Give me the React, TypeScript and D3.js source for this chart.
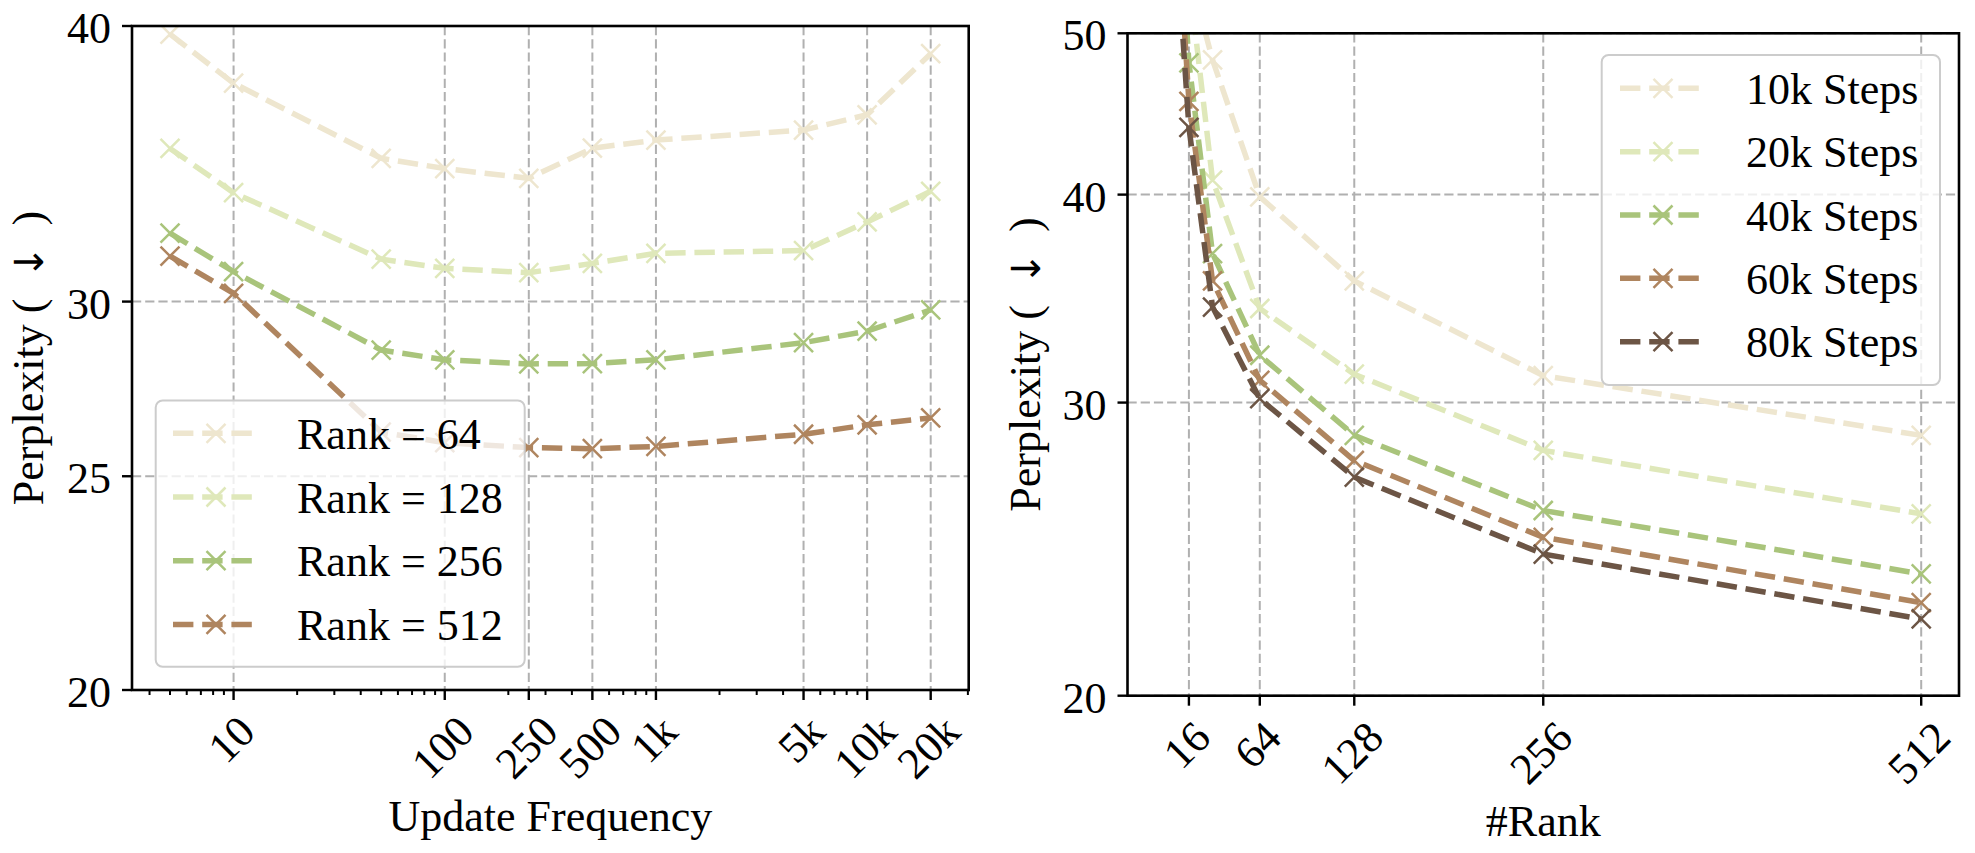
import React from 'react';
import * as d3 from 'd3';

// ---- left panel: perplexity vs update frequency ----
const freqs = [5, 10, 50, 100, 250, 500, 1000, 5000, 10000, 20000];
const rank64 = [39.66, 37.68, 34.84, 34.47, 34.12, 35.21, 35.51, 35.88, 36.46, 38.86];
const rank128 = [35.2, 33.61, 31.36, 31.06, 30.92, 31.22, 31.55, 31.64, 32.6, 33.66];
const rank256 = [32.22, 30.95, 28.52, 28.23, 28.11, 28.12, 28.23, 28.74, 29.09, 29.74];
const rank512 = [31.46, 30.26, 26.18, 25.89, 25.76, 25.73, 25.79, 26.12, 26.38, 26.57];
const rankNames = ['Rank = 64', 'Rank = 128', 'Rank = 256', 'Rank = 512'];
const freqTicks = [10, 100, 250, 500, 1000, 5000, 10000, 20000];
const freqTickLabels = ['10', '100', '250', '500', '1k', '5k', '10k', '20k'];
const leftYTicks = [20, 25, 30, 40];

// ---- right panel: perplexity vs rank ----
const ranks = [8, 16, 32, 64, 128, 256, 512];
const steps10k = [75, 54.5, 48.19, 39.88, 35.5, 31.14, 28.67];
const steps20k = [68, 54, 40.81, 34.17, 31.2, 28.08, 25.72];
const steps40k = [62, 48, 36.87, 32.03, 28.67, 25.84, 23.67];
const steps60k = [59, 45.5, 35.5, 30.94, 27.69, 24.9, 22.75];
const steps80k = [56, 43.9, 34.24, 30.16, 27.06, 24.33, 22.24];
const stepNames = ['10k Steps', '20k Steps', '40k Steps', '60k Steps', '80k Steps'];
const rankTicks = [16, 64, 128, 256, 512];
const rightYTicks = [20, 30, 40, 50];

const colors = ['#eee6cf', '#dfe8ba', '#a9c47b', '#af855f', '#6c5545'];

const FONT = '"Liberation Serif", "Times New Roman", Times, serif';
const FS = 44;
const LW = 5.5;
const DASH = '20.4 8.8';
const GRID = '#b0b0b0';

const L = { x0: 132, x1: 968.7, y0: 26, y1: 690 };
const R = { x0: 1127.5, x1: 1959, y0: 33.3, y1: 695.7 };

const xL = d3.scaleLog().domain([Math.pow(10, 0.519), Math.pow(10, 4.481)]).range([L.x0, L.x1]);
const yL = d3.scaleLog().domain([20, 40]).range([L.y1, L.y0]);
const xR = d3.scaleLinear().domain([-25.6, 537.6]).range([R.x0, R.x1]);
const yR = d3.scaleLog().domain([20, 50]).range([R.y1, R.y0]);

const Cross = ({ x, y, color, s = 9.5 }: { x: number; y: number; color: string; s?: number }) => (
  <path
    d={`M${x - s},${y - s}L${x + s},${y + s}M${x - s},${y + s}L${x + s},${y - s}`}
    stroke={color}
    strokeWidth={2.5}
    fill="none"
  />
);

const minorLogTicks = (domain: number[]) => {
  const out: number[] = [];
  for (let e = 0; e <= 5; e++) {
    for (let m = 2; m <= 9; m++) {
      const v = m * Math.pow(10, e);
      if (v >= domain[0] && v <= domain[1] && !freqTicks.includes(v)) out.push(v);
    }
  }
  return out;
};

interface PanelProps {
  id: string;
  box: { x0: number; x1: number; y0: number; y1: number };
  x: any;
  y: any;
  xs: number[];
  series: number[][];
  xTicks: number[];
  xTickLabels: string[];
  minor: number[];
  yTicks: number[];
  xLabel: string;
  yLabelX: number;
}

const Panel = ({ id, box, x, y, xs, series, xTicks, xTickLabels, minor, yTicks, xLabel, yLabelX }: PanelProps) => {
  const line = d3
    .line<number>()
    .x((_, i) => x(xs[i]))
    .y((d) => y(d));
  const midY = (box.y0 + box.y1) / 2;
  return (
    <g>
      <defs>
        <clipPath id={id}>
          <rect x={box.x0} y={box.y0} width={box.x1 - box.x0} height={box.y1 - box.y0} />
        </clipPath>
      </defs>
      {/* grid */}
      {xTicks.map((t) => (
        <line key={'gx' + t} x1={x(t)} x2={x(t)} y1={box.y0} y2={box.y1} stroke={GRID} strokeWidth={2} strokeDasharray="9.2 4" />
      ))}
      {yTicks.map((t) => (
        <line key={'gy' + t} x1={box.x0} x2={box.x1} y1={y(t)} y2={y(t)} stroke={GRID} strokeWidth={2} strokeDasharray="9.2 4" />
      ))}
      {/* series */}
      <g clipPath={`url(#${id})`}>
        {series.map((vals, si) => (
          <g key={si}>
            <path d={line(vals) || ''} fill="none" stroke={colors[si]} strokeWidth={LW} strokeDasharray={DASH} />
            {vals.map((v, i) => (
              <Cross key={i} x={x(xs[i])} y={y(v)} color={colors[si]} />
            ))}
          </g>
        ))}
      </g>
      {/* spines */}
      <rect x={box.x0} y={box.y0} width={box.x1 - box.x0} height={box.y1 - box.y0} fill="none" stroke="#000" strokeWidth={2.6} />
      {/* x ticks */}
      {minor.map((t) => (
        <line key={'mx' + t} x1={x(t)} x2={x(t)} y1={box.y1} y2={box.y1 + 5} stroke="#000" strokeWidth={2} />
      ))}
      {xTicks.map((t, i) => {
        const cx = x(t) - 2;
        const w = xTickLabels[i].length * 0.5 * FS;
        const cy = box.y1 + 34 + w / (2 * Math.SQRT2);
        return (
          <g key={'tx' + t}>
            <line x1={x(t)} x2={x(t)} y1={box.y1} y2={box.y1 + 10} stroke="#000" strokeWidth={2.4} />
            <text
              x={cx}
              y={cy}
              textAnchor="middle"
              dominantBaseline="central"
              transform={`rotate(-45, ${cx}, ${cy})`}
              fontSize={FS}
              fontFamily={FONT}
            >
              {xTickLabels[i]}
            </text>
          </g>
        );
      })}
      {/* y ticks */}
      {yTicks.map((t) => (
        <g key={'ty' + t}>
          <line x1={box.x0 - 10} x2={box.x0} y1={y(t)} y2={y(t)} stroke="#000" strokeWidth={2.4} />
          <text x={box.x0 - 21} y={y(t)} dy="0.39em" textAnchor="end" fontSize={FS} fontFamily={FONT}>
            {t}
          </text>
        </g>
      ))}
      {/* axis labels */}
      <text x={(box.x0 + box.x1) / 2} y={box.y1 + 140.5} textAnchor="middle" fontSize={FS} fontFamily={FONT}>
        {xLabel}
      </text>
      <text transform={`translate(${yLabelX}, ${midY}) rotate(-90)`} textAnchor="middle" fontSize={FS} fontFamily={FONT}>
        {'Perplexity (\u2009 '}
        <tspan fontFamily='"DejaVu Sans", sans-serif' fontSize={40}>↓</tspan>
        {' \u2009)'}
      </text>
    </g>
  );
};

interface LegendProps {
  names: string[];
  box: { x: number; y: number; w: number; h: number };
  row0: number;
  rowGap: number;
  hx0: number;
  hx1: number;
  tx: number;
}

const Legend = ({ names, box, row0, rowGap, hx0, hx1, tx }: LegendProps) => (
  <g>
    <rect x={box.x} y={box.y} width={box.w} height={box.h} rx={7} fill="#fff" fillOpacity={0.8} stroke="#cccccc" strokeWidth={2} />
    {names.map((n, i) => {
      const ry = row0 + i * rowGap;
      return (
        <g key={n}>
          <line x1={hx0} x2={hx1} y1={ry} y2={ry} stroke={colors[i]} strokeWidth={LW} strokeDasharray={DASH} />
          <Cross x={(hx0 + hx1) / 2} y={ry} color={colors[i]} />
          <text x={tx} y={ry + 15.5} fontSize={FS} fontFamily={FONT}>
            {n}
          </text>
        </g>
      );
    })}
  </g>
);

export default function App() {
  const leftMinor = minorLogTicks(xL.domain());
  return (
    <svg width={1975} height={853} style={{ position: 'absolute', left: 0, top: 0, background: '#fff' }}>
      <rect width={1975} height={853} fill="#fff" />
      <Panel
        id="clipL"
        box={L}
        x={xL}
        y={yL}
        xs={freqs}
        series={[rank64, rank128, rank256, rank512]}
        xTicks={freqTicks}
        xTickLabels={freqTickLabels}
        minor={leftMinor}
        yTicks={leftYTicks}
        xLabel="Update Frequency"
        yLabelX={43.3}
      />
      <Legend
        names={rankNames}
        box={{ x: 155.7, y: 400.5, w: 369, h: 266.3 }}
        row0={433.3}
        rowGap={63.7}
        hx0={173}
        hx1={259}
        tx={297}
      />
      <Panel
        id="clipR"
        box={R}
        x={xR}
        y={yR}
        xs={ranks}
        series={[steps10k, steps20k, steps40k, steps60k, steps80k]}
        xTicks={rankTicks}
        xTickLabels={rankTicks.map(String)}
        minor={[]}
        yTicks={rightYTicks}
        xLabel="#Rank"
        yLabelX={1040}
      />
      <Legend
        names={stepNames}
        box={{ x: 1601.7, y: 55, w: 338.3, h: 330 }}
        row0={88.3}
        rowGap={63.35}
        hx0={1620}
        hx1={1706}
        tx={1746}
      />
    </svg>
  );
}
